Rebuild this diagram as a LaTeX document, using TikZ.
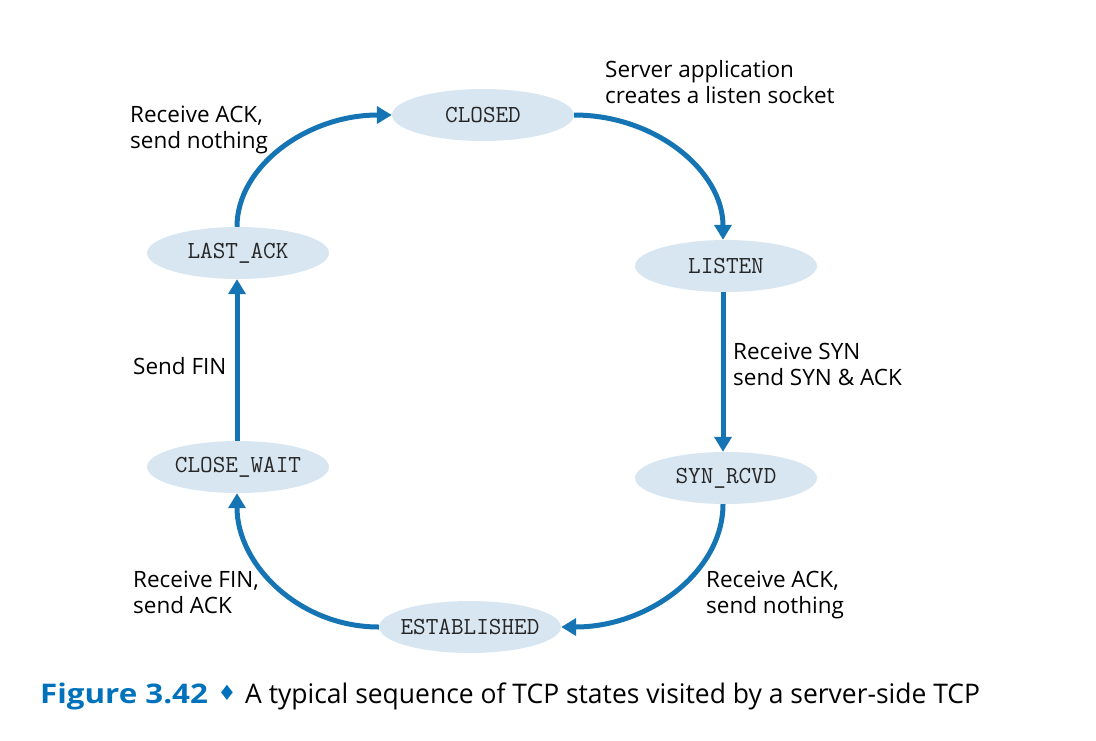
\documentclass[tikz,border=0pt]{standalone}
\usepackage{fontspec}
\setmainfont{Open Sans}
\newfontfamily\dejavu{DejaVu Sans}
\usetikzlibrary{shapes.geometric,arrows.meta}
\definecolor{arrowblue}{RGB}{20,116,180}
\definecolor{statefill}{RGB}{216,230,241}
\definecolor{capblue}{RGB}{0,114,188}
\newcommand\stname[1]{\makebox[0pt]{#1}}
\begin{document}
\begin{tikzpicture}[x=1pt,y=-1pt,
  state/.style={ellipse,fill=statefill,minimum width=182pt,minimum height=52pt,inner sep=0pt,
    font=\ttfamily\fontsize{24.5}{26}\selectfont,text=black!85},
  conn/.style={line width=5pt,draw=arrowblue,-{Triangle[width=17pt,length=15pt]}},
  lbl/.style={anchor=base west,inner sep=0pt,align=left,font=\fontsize{22.5}{26}\selectfont,text=black}]
\useasboundingbox (0,0) rectangle (1096,740);
\node[state] (closed) at (483,115) {\stname{CLOSED}};
\node[state] (listen) at (726,266) {\stname{LISTEN}};
\node[state] (synrcvd) at (726,478) {\stname{SYN\_RCVD}};
\node[state] (estab) at (470,627) {\stname{ESTABLISHED}};
\node[state] (closewait) at (238,467) {\stname{CLOSE\_WAIT}};
\node[state] (lastack) at (238,253) {\stname{LAST\_ACK}};

\draw[conn] (closed.east) .. controls +(81,0) and +(0,-69) .. ([xshift=-3pt]listen.north);
\draw[conn] ([xshift=-3pt]listen.south) -- ([xshift=-3pt]synrcvd.north);
\draw[conn] ([xshift=-3pt]synrcvd.south) .. controls +(0,67) and +(88,0) .. (estab.east);
\draw[conn] (estab.west) .. controls +(-79,0) and +(0,72) .. ([xshift=-1pt]closewait.south);
\draw[conn] ([xshift=-1pt]closewait.north) -- ([xshift=-1pt]lastack.south);
\draw[conn] ([xshift=-1pt]lastack.north) .. controls +(0,-61) and +(-84,0) .. (closed.west);

\node[lbl] (l1) at (605,103) {Server application\\creates a listen socket};
\node[lbl] (l2) at (130,148) {Receive ACK,\\send nothing};
\node[lbl] (l3) at (133,374) {Send FIN};
\node[lbl] (l4) at (733,385) {Receive SYN\\send SYN \& ACK};
\node[lbl] (l5) at (133,613) {Receive FIN,\\send ACK};
\node[lbl] (l6) at (706,613) {Receive ACK,\\send nothing};

\node[anchor=base west,inner sep=0pt,text=capblue,font=\bfseries\fontsize{27}{30}\selectfont] (capfig) at (40,703)
  {\scalebox{1.16}[1]{Figure 3.42}};
\node[inner sep=0pt,text=capblue,font=\dejavu\fontsize{21}{22}\selectfont] (capdia) at (227,693) {♦};
\node[anchor=base west,inner sep=0pt,font=\fontsize{27}{30}\selectfont] (captext) at (245,703)
  {\scalebox{0.98}[1]{A typical sequence of TCP states visited by a server-side TCP}};
\end{tikzpicture}
\end{document}
